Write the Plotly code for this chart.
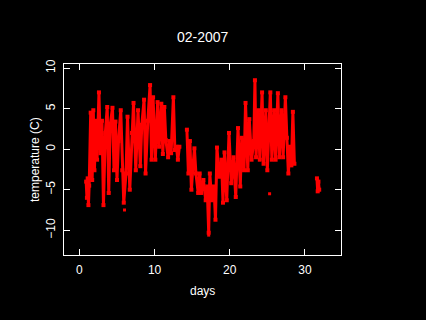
import plotly.graph_objects as go

# Time series of temperature extremes (None = data gap)
days = [0.9, 1.0, 1.1, 1.2, 1.3, 1.5, 1.7, 1.85, 2.0, 2.2, 2.35, 2.6, 2.8, 3.0, 3.2,
        3.45, 3.7, 3.9, 4.1, 4.4, 4.6, 4.8, 5.0, 5.2, 5.5, 5.7, 5.9, 6.2, 6.4, 6.7,
        7.0, 7.2, 7.5, 7.8, 8.1, 8.3, 8.6, 8.8, 9.1, 9.4, 9.6, 9.8, 10.1, 10.4, 10.6,
        10.9, 11.1, 11.3, 11.5, 11.8, 12.0, 12.2, 12.5, 12.7, 12.9, 13.1, 13.3, None,
        14.3, 14.5, 14.7, 14.9, 15.1, 15.3, 15.5, 15.8, 16.0, 16.2, 16.5, 16.8, 17.0,
        17.2, 17.35, 17.6, 17.9, 18.1, 18.3, 18.6, 18.9, 19.1, 19.3, 19.6, 19.9, 20.2,
        20.5, 20.8, 21.1, 21.4, 21.6, 21.9, 22.1, 22.4, 22.6, 22.9, 23.2, 23.35, 23.5,
        23.8, 24.0, 24.3, 24.5, 24.8, 25.0, 25.4, 25.6, 25.9, 26.1, 26.4, 26.6, 26.9,
        27.1, 27.4, 27.6, 27.8, 28.0, 28.2, 28.4, 28.6, None,
        31.6, 31.7, 31.8, 31.9]
temps = [-4.0, -6.0, -3.6, -6.9, -4.5, 4.5, -3.8, 4.8, -2.6, 3.5, -1.3, 7.0, -0.5, 3.5, -6.9,
         2.0, 5.2, -5.4, 3.0, 5.1, -2.6, 3.4, -3.8, 1.0, 4.8, -2.6, -6.6, -3.0, 4.0, -5.0,
         2.0, 5.7, -2.6, 4.8, -2.1, 3.0, 6.1, -3.0, 3.5, 7.9, -1.3, 6.4, -1.3, 5.8, 0.3,
         5.6, -0.6, 5.2, 1.1, -1.0, 1.0, -0.5, 6.4, -0.1, 0.3, -1.3, 0.3, None,
         2.4, -3.0, 1.0, -5.0, -2.2, 0.1, -3.0, -5.4, -3.0, -5.4, -3.8, -6.3, -4.6,
         -10.3, -3.0, -6.3, -4.6, -8.7, 0.2, -3.4, -1.3, -6.6, -0.4, -6.3, 2.0, -4.2,
         -1.0, -5.9, 2.6, -4.6, 1.4, -2.6, 5.7, -2.6, 3.7, -1.3, 1.0, 8.5, -1.0,
         4.8, -1.3, 7.0, -1.8, 4.8, -2.6, 7.0, -1.3, 4.8, -1.3, 6.9, -1.0, 4.8,
         -1.0, 6.4, 1.4, -3.0, 0.3, -2.0, 4.6, -1.8, None,
         -3.6, -5.2, -4.0, -5.0]

# Isolated readings
iso_days = [6.0, 17.2, 25.3]
iso_temps = [-7.5, -10.6, -5.5]

x_ticks = [0, 10, 20, 30]
y_ticks = [-10, -5, 0, 5, 10]

RED = "#FF0000"
FONT = "Liberation Sans"

fig = go.Figure()
fig.add_trace(go.Scatter(x=days, y=temps, mode="lines+markers",
                         line=dict(color=RED, width=3),
                         marker=dict(color=RED, size=4, symbol="square"),
                         connectgaps=False, hoverinfo="skip"))
fig.add_trace(go.Scatter(x=iso_days, y=iso_temps, mode="markers",
                         marker=dict(color=RED, size=3, symbol="square"),
                         hoverinfo="skip"))

axis_common = dict(showline=True, linecolor="white", linewidth=1, mirror="allticks",
                   ticks="inside", ticklen=6, tickcolor="white", tickwidth=1,
                   showgrid=False, zeroline=False,
                   tickfont=dict(family=FONT, size=12, color="white"))

# plot-area pixel geometry (used only to place the text labels)
L, R, T, B = 64, 341, 64, 255
def px(x): return (x - L) / (R - L)
def py(y): return (B - y) / (B - T)

fig.update_layout(
    width=426, height=320,
    margin=dict(l=L, r=426 - R, t=T, b=320 - B),
    paper_bgcolor="black", plot_bgcolor="black",
    showlegend=False,
    xaxis=dict(range=[-2.05, 34.8], tickvals=x_ticks, ticklabelstandoff=4, **axis_common),
    yaxis=dict(range=[-13.05, 10.5], tickvals=y_ticks, tickangle=-90,
               ticklabelstandoff=3, **axis_common),
    annotations=[
        dict(text="02-2007", x=px(202.5), y=py(37), xref="paper", yref="paper",
             xanchor="center", yanchor="middle", showarrow=False,
             font=dict(family=FONT, size=14, color="white")),
        dict(text="days", x=px(202.5), y=py(290.5), xref="paper", yref="paper",
             xanchor="center", yanchor="middle", showarrow=False,
             font=dict(family=FONT, size=12, color="white")),
        dict(text="temperature (C)", x=px(35), y=py(160), xref="paper", yref="paper",
             xanchor="center", yanchor="middle", showarrow=False, textangle=-90,
             font=dict(family=FONT, size=12, color="white")),
    ],
)

fig.write_html("out.html", config={"displayModeBar": False},
               post_script="document.body.style.margin='0';document.body.style.background='black';")
